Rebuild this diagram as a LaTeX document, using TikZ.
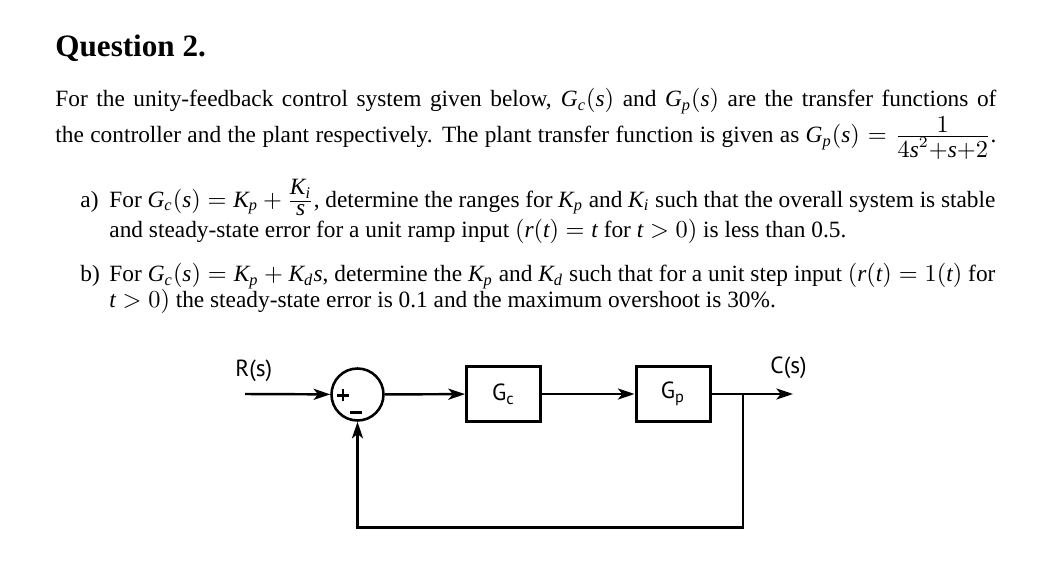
\documentclass[tikz,border=0pt]{standalone}
\usepackage{fontspec}
\setmainfont{Liberation Serif}
\newfontfamily\diagfont{PT Sans}
\usetikzlibrary{positioning,arrows.meta}

% Times-like letters and digits in math
\DeclareSymbolFont{tletters}{TU}{\rmdefault}{m}{it}
\DeclareSymbolFont{tupright}{TU}{\rmdefault}{m}{n}
\DeclareMathSymbol{G}{\mathalpha}{tletters}{`G}
\DeclareMathSymbol{K}{\mathalpha}{tletters}{`K}
\DeclareMathSymbol{s}{\mathalpha}{tletters}{`s}
\DeclareMathSymbol{r}{\mathalpha}{tletters}{`r}
\DeclareMathSymbol{t}{\mathalpha}{tletters}{`t}
\DeclareMathSymbol{c}{\mathalpha}{tletters}{`c}
\DeclareMathSymbol{p}{\mathalpha}{tletters}{`p}
\DeclareMathSymbol{i}{\mathalpha}{tletters}{`i}
\DeclareMathSymbol{d}{\mathalpha}{tletters}{`d}
\DeclareMathSymbol{0}{\mathalpha}{tupright}{`0}
\DeclareMathSymbol{1}{\mathalpha}{tupright}{`1}
\DeclareMathSymbol{2}{\mathalpha}{tupright}{`2}
\DeclareMathSymbol{4}{\mathalpha}{tupright}{`4}
\DeclareMathSymbol{(}{\mathopen}{tupright}{`(}
\DeclareMathSymbol{)}{\mathclose}{tupright}{`)}

\newlength{\fullw}\setlength{\fullw}{423.45pt}
\newlength{\itemw}\setlength{\itemw}{398.7pt}
\newcommand{\dfr}[2]{\frac{\displaystyle #1}{\displaystyle #2}}
\newcommand{\textsz}{\fontsize{10.5}{12.6}\selectfont}
\newcommand{\lineone}{For the unity-feedback control system given below, $G_c(s)$ and $G_p(s)$ are the transfer functions of}
\newcommand{\linetwo}{the controller and the plant respectively. The plant transfer function is given as $G_p(s)=\dfr{1}{4s^2{+}s{+}2}$.}
\newcommand{\lineaone}{For $G_c(s)=K_p+\dfr{K_i\rule[-2.4pt]{0pt}{0pt}}{s\rule{0pt}{5.6pt}}$, determine the ranges for $K_p$ and $K_i$ such that the overall system is stable}
\newcommand{\lineatwo}{and steady-state error for a unit ramp input $(r(t)=t$ for $t>0)$ is less than 0.5.}
\newcommand{\linebone}{For $G_c(s)=K_p+K_ds$, determine the $K_p$ and $K_d$ such that for a unit step input $(r(t)=1(t)$ for}
\newcommand{\linebtwo}{$t>0)$ the steady-state error is 0.1 and the maximum overshoot is 30\%.}
\newcommand{\plussign}{\makebox[0pt]{\rule[1.9pt]{5.4pt}{1.3pt}}\makebox[0pt]{\rule[0pt]{1.3pt}{5.4pt}}}
\newcommand{\minussign}{\rule{5pt}{1.35pt}}

\tikzset{
  txt/.style={anchor=base west, inner sep=0pt, font=\textsz},
  block/.style={draw, line width=1.35pt, minimum width=33.3pt, minimum height=24.75pt, inner sep=0pt, font=\diagfont\fontsize{10.5}{12}\selectfont},
  sumnode/.style={draw, circle, line width=1.15pt, minimum size=23.4pt, inner sep=0pt},
  conn/.style={line width=1.1pt, -{Stealth[length=7.5pt, width=5pt, inset=2pt]}},
  sig/.style={anchor=base west, inner sep=0pt, font=\diagfont\fontsize{10.5}{12}\selectfont}
}

\begin{document}
\begin{tikzpicture}[x=0.45pt, y=-0.45pt]
  \useasboundingbox (0,0) rectangle (1051,575);

  % question text
  \node[txt, font=\fontsize{14}{17}\selectfont\bfseries] (title) at (55,57) {Question 2.};
  \node[txt] (l1) at (55,107) {\hbox to \fullw{\lineone}};
  \node[txt] (l2) at (55,142.5) {\hbox to \fullw{\linetwo}};
  \node[txt] (ia) at (80,207.3) {a)};
  \node[txt] (a1) at (109,207.3) {\hbox to \itemw{\lineaone}};
  \node[txt] (a2) at (109,237.8) {\lineatwo};
  \node[txt] (ib) at (80,282) {b)};
  \node[txt] (b1) at (109,282) {\hbox to \itemw{\linebone}};
  \node[txt] (b2) at (109,308) {\linebtwo};

  % block diagram
  \coordinate (in) at (245,394);
  \node[sumnode] (sum) at (357.5,394.5) {};
  \node at (343,395) {\plussign};
  \node at (356,412) {\minussign};
  \node[block] (gc) at (503.5,394) {G\textsubscript{c}};
  \node[block] (gp) at (673,394) {G\textsubscript{p}};
  \coordinate (branch) at (743,394);
  \coordinate (out) at (793,394);
  \coordinate (fb) at (743,527.7);
  \node[sig] (rs) at (235,377) {R(s)};
  \node[sig] (cs) at (770,374) {C(s)};

  \draw[conn] (in) -- (sum);
  \draw[conn] (sum) -- (gc);
  \draw[conn] (gc) -- (gp);
  \draw[conn] (gp) -- (out);
  \draw[conn] (branch) -- (fb) -| (sum.south);
\end{tikzpicture}
\end{document}
